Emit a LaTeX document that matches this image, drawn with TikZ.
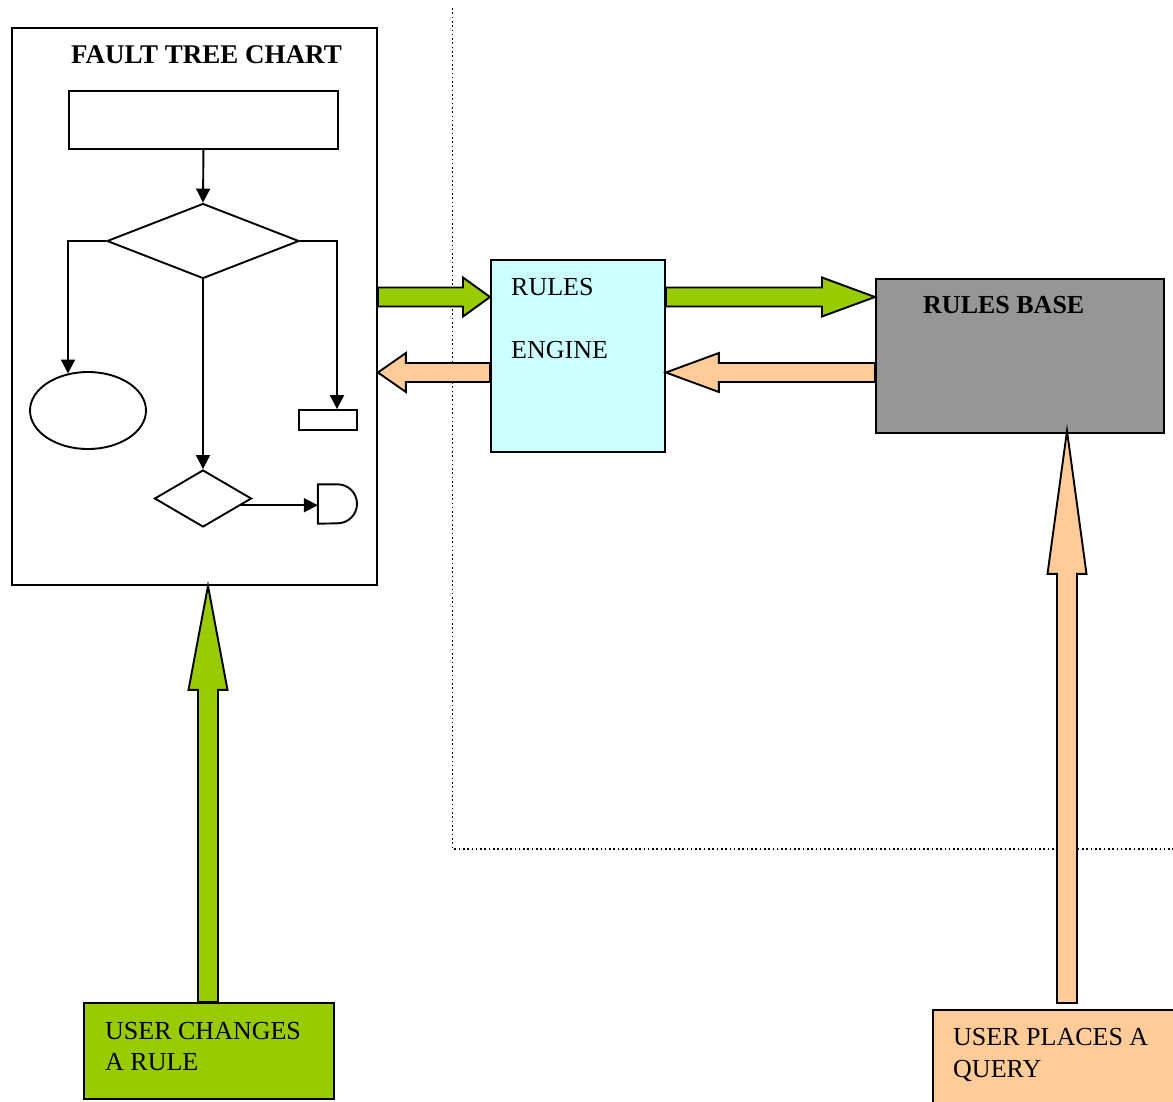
\documentclass[tikz,border=0pt]{standalone}
\usepackage{fontspec}
\setmainfont{Liberation Serif}
\usetikzlibrary{shapes.geometric,arrows.meta,calc}
\definecolor{grn}{HTML}{99CC00}
\definecolor{pch}{HTML}{FFCC99}
\definecolor{cyn}{HTML}{CCFFFF}
\definecolor{gry}{HTML}{969696}
% horizontal block arrow: style, start, tip, signed x offset of head base from tip
\newcommand{\HArrow}[4]{%
  \draw[#1] ($(#2)+(0,9.5)$) -- ($(#3)+(#4,9.5)$) -- ($(#3)+(#4,19.5)$) -- (#3)
    -- ($(#3)+(#4,-19.5)$) -- ($(#3)+(#4,-9.5)$) -- ($(#2)+(0,-9.5)$) -- cycle;}
% vertical block arrow: style, start, tip, signed y offset of head base from tip
\newcommand{\VArrow}[4]{%
  \draw[#1] ($(#2)+(-10,0)$) -- ($(#3)+(-10,#4)$) -- ($(#3)+(-19.5,#4)$) -- (#3)
    -- ($(#3)+(19.5,#4)$) -- ($(#3)+(10,#4)$) -- ($(#2)+(10,0)$) -- cycle;}
\tikzset{
  box/.style={draw=black, line width=1.9pt, inner sep=0pt},
  flow/.style={draw=black, line width=1.9pt, inner sep=0pt},
  conn/.style={line width=1.9pt, -{Triangle[length=14pt,width=14pt]}},
  barrow/.style={draw=black, line width=1.9pt, line join=miter},
  lbl/.style={inner sep=0pt, anchor=base west},
  dots/.style={line width=1.8pt, dash pattern=on 1.6pt off 2.7pt},
}
\begin{document}
\begin{tikzpicture}[x=1pt,y=1pt,font=\fontsize{26}{31}\selectfont]
\useasboundingbox (0,0) rectangle (1173,-1101);
\clip (0,0) rectangle (1173,-1101);
\fill[white] (0,0) rectangle (1173,-1101);

% dotted boundary
\coordinate (dtop) at (452.5,-8);
\coordinate (dcorner) at (452.5,-849);
\coordinate (dright) at (1173,-849);
\draw[dots] (dtop) -- (dcorner) -- (dright);

% main boxes
\node[box, minimum width=365, minimum height=557, anchor=north west] (ft) at (11,-27) {};
\node[box, fill=cyn, minimum width=174, minimum height=192, anchor=north west] (eng) at (490,-259) {};
\node[box, fill=gry, minimum width=288, minimum height=154, anchor=north west] (rb) at (875,-278) {};
\node[box, fill=grn, minimum width=250, minimum height=96, anchor=north west] (uc) at (83,-1002) {};
\node[box, fill=pch, minimum width=250, minimum height=110, anchor=north west] (uq) at (932,-1009) {};

% texts
\node[inner sep=0pt, anchor=base, font=\fontsize{27}{31}\selectfont\bfseries] (title) at (206.5,-63) {FAULT TREE CHART};
\node[lbl] (t1) at (511,-295) {RULES};
\node[lbl] (t2) at (511,-358) {ENGINE};
\node[lbl, font=\fontsize{26}{31}\selectfont\bfseries] (t3) at (923,-313) {RULES BASE};
\node[lbl] (t4) at (105,-1039) {USER CHANGES};
\node[lbl] (t5) at (105,-1070) {A RULE};
\node[lbl] (t6) at (953,-1045) {USER PLACES A};
\node[lbl] (t7) at (953,-1077) {QUERY};

% fault tree chart contents
\node[flow, minimum width=269, minimum height=58, anchor=north west] (top) at (68,-90) {};
\node[flow, diamond, aspect=2.56, minimum width=192, minimum height=75] (d1) at (203,-241) {};
\node[flow, ellipse, minimum width=116, minimum height=77] (ell) at (88,-410.5) {};
\node[flow, rectangle, minimum width=58, minimum height=20] (sr) at (328,-420) {};
\node[flow, diamond, aspect=1.7, minimum width=97, minimum height=57] (d2) at (203,-498.5) {};
\node[inner sep=0pt, minimum width=39, minimum height=39] (gate) at (337.5,-504) {};
\draw[line width=1.9pt] (gate.north west) -- (gate.north) arc[start angle=90, end angle=-90, radius=19.5] -- (gate.south west) -- cycle;

\coordinate (lc) at (68,-241);
\coordinate (rc) at (337,-241);
\draw[conn] (top.south) -- (d1.north);
\draw[conn] (d1.west) -- (lc) -- (lc |- ell.119);
\draw[conn] (d1.east) -- (rc) -- (rc |- sr.north);
\draw[conn] (d1.south) -- (d2.north);
\draw[conn] (d2.-10) -- (d2.-10 -| gate.west);

% block arrows
\coordinate (g1s) at (ft.east |- 0,-297);
\coordinate (g1t) at (eng.west |- 0,-297);
\coordinate (g2s) at (eng.east |- 0,-297);
\coordinate (g2t) at (rb.west |- 0,-297);
\coordinate (p1s) at (eng.west |- 0,-372.5);
\coordinate (p1t) at (ft.east |- 0,-372.5);
\coordinate (p2s) at (rb.west |- 0,-372.5);
\coordinate (p2t) at (eng.east |- 0,-372.5);
\coordinate (g3s) at (uc.north -| 208,0);
\coordinate (g3t) at (ft.south -| 208,0);
\coordinate (p3s) at ($(uq.north -| 1067,0)+(0,6)$);
\coordinate (p3t) at ($(rb.south -| 1067,0)+(0,3)$);

\HArrow{barrow, fill=grn}{g1s}{g1t}{-27}
\HArrow{barrow, fill=grn}{g2s}{g2t}{-53}
\HArrow{barrow, fill=pch}{p1s}{p1t}{28}
\HArrow{barrow, fill=pch}{p2s}{p2t}{53}
\VArrow{barrow, fill=grn}{g3s}{g3t}{-104}
\VArrow{barrow, fill=pch}{p3s}{p3t}{-143}
\end{tikzpicture}
\end{document}
